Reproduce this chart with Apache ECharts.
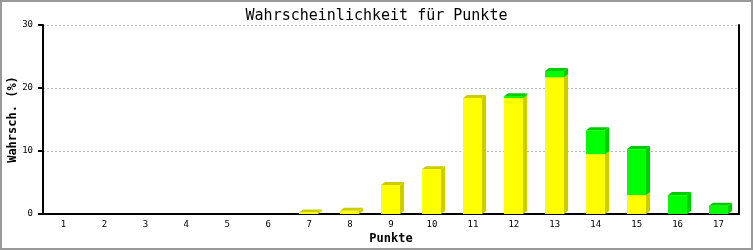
<!DOCTYPE html>
<html>
<head>
<meta charset="utf-8">
<script src="https://cdn.jsdelivr.net/npm/echarts@6/dist/echarts.min.js"></script>
<style>
html,body{margin:0;padding:0;background:#fff;}
#c{width:753px;height:250px;}
</style>
</head>
<body>
<div id="c"></div>
<script>
var categories = ['1','2','3','4','5','6','7','8','9','10','11','12','13','14','15','16','17'];
var yellowValues = [0,0,0,0,0,0,0.25,0.5,4.6,7.1,18.4,18.4,21.7,9.5,3.0,0,0];
var greenValues  = [0,0,0,0,0,0,0,0,0,0,0,0.3,1.0,3.8,7.3,3.0,1.3];
var yTicks = [0,10,20,30];

var MONO = '"DejaVu Sans Mono", "Liberation Mono", monospace';
var rows = categories.map(function(c,i){ return [i, yellowValues[i], greenValues[i]]; });

function box(x0, x1, yb, yt, front, dark, dx, dy){
  var ch = [];
  ch.push({type:'polygon', shape:{points:[[x1,yt],[x1+dx,yt-dy],[x1+dx,yb-dy],[x1,yb]]}, style:{fill:dark}});
  ch.push({type:'polygon', shape:{points:[[x0,yt],[x0+dx,yt-dy],[x1+dx,yt-dy],[x1,yt]]}, style:{fill:dark}});
  ch.push({type:'rect', shape:{x:x0,y:yt,width:x1-x0,height:yb-yt}, style:{fill:front}});
  return ch;
}

function renderItem(params, api){
  var i = api.value(0), y = api.value(1), g = api.value(2);
  var base = api.coord([i,0]);
  var c = base[0];
  var x0 = Math.round(c-10), x1 = Math.round(c+9);
  var dx = 4, dy = 3;
  var children = [];
  var yb = base[1];
  if (y > 0){
    var yt = api.coord([i,y])[1];
    children = children.concat(box(x0,x1,yb,yt,'#ffff00','#cccc00',dx,dy));
    yb = yt;
  }
  if (g > 0){
    var gt = api.coord([i,y+g])[1];
    children = children.concat(box(x0,x1,yb,gt,'#00ff00','#00cc00',dx,dy));
  }
  return {type:'group', children:children};
}

var chart = echarts.init(document.getElementById('c'), null, {renderer:'canvas'});
chart.setOption({
  backgroundColor:'#ffffff',
  animation:false,
  title:{text:'Wahrscheinlichkeit für Punkte', left:'center', top:4,
    textStyle:{fontFamily:MONO, fontSize:15, fontWeight:'normal', color:'#000'}},
  grid:{left:43, right:14, top:25, bottom:36, containLabel:false, outerBoundsMode:'none'},
  xAxis:{type:'category', data:categories, boundaryGap:true,
    name:'Punkte', nameLocation:'middle', nameGap:19, nameMoveOverlap:false,
    nameTextStyle:{fontFamily:MONO, fontSize:12, fontWeight:'bold', color:'#000'},
    axisLine:{lineStyle:{color:'#000', width:2}},
    axisTick:{show:false},
    axisLabel:{fontFamily:MONO, fontSize:9, color:'#000', margin:6}},
  yAxis:[{type:'value', min:0, max:30, interval:10,
    name:'Wahrsch. (%)', nameLocation:'middle', nameGap:24, nameMoveOverlap:false,
    nameTextStyle:{fontFamily:MONO, fontSize:12, fontWeight:'bold', color:'#000'},
    axisLine:{show:true, lineStyle:{color:'#000', width:2}},
    axisTick:{show:true, inside:false, length:5, lineStyle:{color:'#000', width:2}},
    axisLabel:{fontFamily:MONO, fontSize:9, color:'#000', margin:10,
      formatter:function(v){ return yTicks.indexOf(v) >= 0 ? String(v) : ''; }},
    splitLine:{show:true, lineStyle:{color:'#bbbbbb', type:[2,2], width:1}}},
   {type:'value', min:0, max:30, interval:10, position:'right',
    axisLine:{show:true, lineStyle:{color:'#000', width:2}},
    axisTick:{show:false}, axisLabel:{show:false}, splitLine:{show:false}}],
  graphic:[{type:'rect', shape:{x:1, y:1, width:751, height:248},
    style:{fill:'none', stroke:'#999999', lineWidth:2}, silent:true, z:100}],
  series:[{type:'custom', renderItem:renderItem, data:rows,
    encode:{x:0, y:[1,2]}, clip:false}]
});
</script>
</body>
</html>
